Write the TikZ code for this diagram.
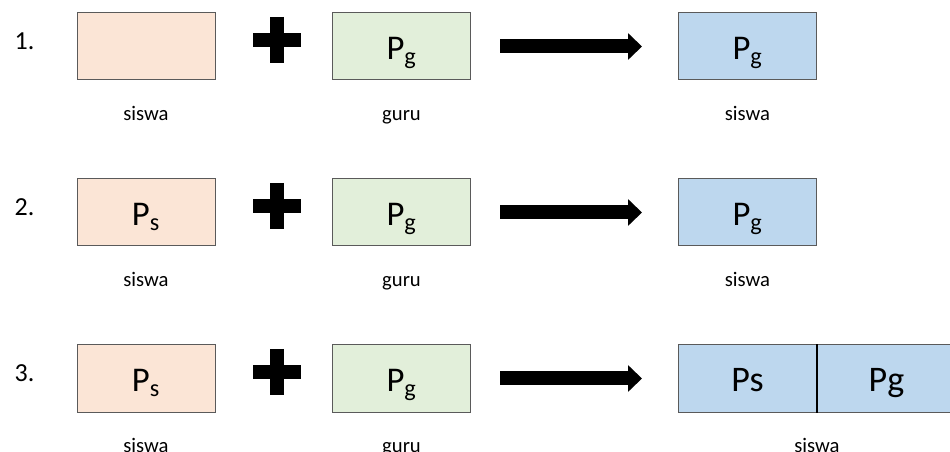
\documentclass[tikz,border=0pt]{standalone}
\usepackage{fontspec}
\setmainfont{Carlito}
\usetikzlibrary{arrows.meta,positioning}

\definecolor{siswafill}{HTML}{FBE5D6}
\definecolor{gurufill}{HTML}{E2EFDA}
\definecolor{hasilfill}{HTML}{BDD7EE}
\definecolor{kotakline}{HTML}{5A5A5A}

\tikzset{
  kotak/.style={draw=kotakline, line width=0.75pt, minimum width=103.5pt,
    minimum height=50.25pt, inner sep=0pt, text height=20pt, text depth=0pt,
    font=\fontsize{26}{30}\selectfont},
  siswabox/.style={kotak, fill=siswafill},
  gurubox/.style={kotak, fill=gurufill},
  hasilbox/.style={kotak, fill=hasilfill},
  lbl/.style={font=\fontsize{15.5}{18}\selectfont, anchor=base},
  nomor/.style={font=\fontsize{19.5}{23}\selectfont, anchor=base west},
  tambah/.style={line width=10pt},
  panah/.style={line width=10.5pt, -{Triangle[length=10.5pt,width=19.5pt]},
    shorten <=21.75pt, shorten >=27pt}
}

\begin{document}
\begin{tikzpicture}[x=0.75pt,y=-0.75pt]
\useasboundingbox (0,0) rectangle (950,452);
\clip (0,0) rectangle (950,452);

% Row 1
\node[nomor] (n1) at (10,50) {1.};
\node[siswabox] (s1) at (146,46.5) {};
\node[gurubox] (g1) at (401.5,46.5) {P\textsubscript{g}};
\node[hasilbox] (h1) at (747.5,46.5) {P\textsubscript{g}};
\draw[tambah] (253,40) -- (301,40) (277,17) -- (277,63);
\draw[panah] (g1) -- (h1);
\node[lbl] (ls1) at ([yshift=-30pt]s1.south) {siswa};
\node[lbl] (lg1) at ([yshift=-30pt]g1.south) {guru};
\node[lbl] (lh1) at ([yshift=-30pt]h1.south) {siswa};

% Row 2
\node[nomor] (n2) at (10,216) {2.};
\node[siswabox] (s2) at (146,212.5) {P\textsubscript{s}};
\node[gurubox] (g2) at (401.5,212.5) {P\textsubscript{g}};
\node[hasilbox] (h2) at (747.5,212.5) {P\textsubscript{g}};
\draw[tambah] (253,206) -- (301,206) (277,183) -- (277,229);
\draw[panah] (g2) -- (h2);
\node[lbl] (ls2) at ([yshift=-30pt]s2.south) {siswa};
\node[lbl] (lg2) at ([yshift=-30pt]g2.south) {guru};
\node[lbl] (lh2) at ([yshift=-30pt]h2.south) {siswa};

% Row 3
\node[nomor] (n3) at (10,382) {3.};
\node[siswabox] (s3) at (146,378.5) {P\textsubscript{s}};
\node[gurubox] (g3) at (401.5,378.5) {P\textsubscript{g}};
\node[hasilbox, font=\fontsize{27}{31}\selectfont] (h3a) at (747.5,378.5) {Ps};
\node[hasilbox, font=\fontsize{27}{31}\selectfont] (h3b) at (886.5,378.5) {Pg};
\draw[black, line width=1pt] (h3a.north east) -- (h3a.south east);
\draw[tambah] (253,372) -- (301,372) (277,349) -- (277,395);
\draw[panah] (g3) -- (h3a);
\node[lbl] (ls3) at ([yshift=-30pt]s3.south) {siswa};
\node[lbl] (lg3) at ([yshift=-30pt]g3.south) {guru};
\node[lbl] (lh3) at ([yshift=-30pt]h3a.south east) {siswa};

\end{tikzpicture}
\end{document}
